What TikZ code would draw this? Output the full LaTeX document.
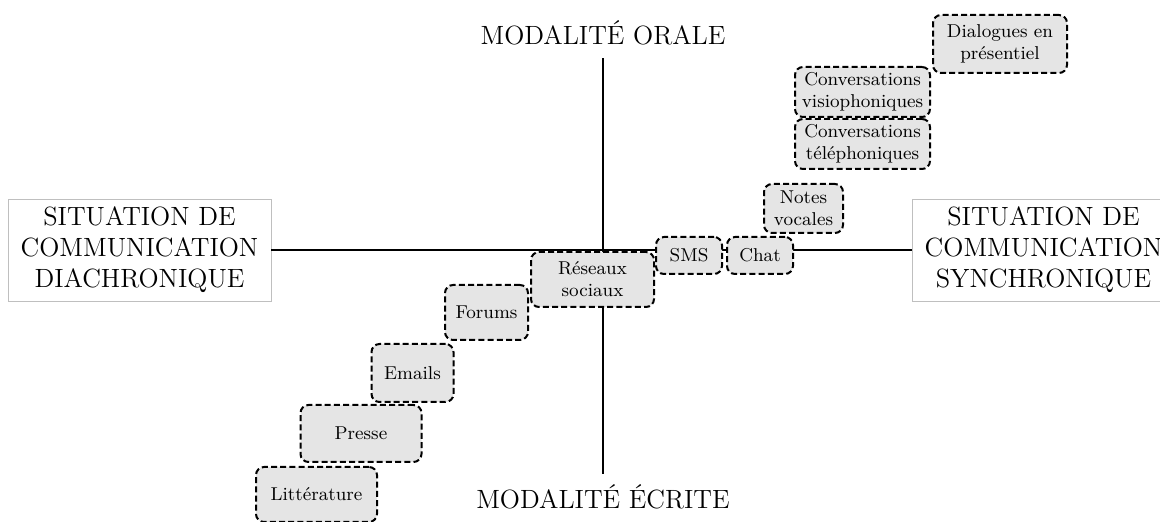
\documentclass[tikz,border=0pt]{standalone}
\usepackage{amsmath,amssymb}
\usepackage{tikz}

\begin{document}
\begin{tikzpicture}[x=0.5pt,y=-0.5pt,
        axe/.style={line width=1.3pt},
        pole/.style={font=\fontsize{13.2}{15.5}\selectfont,align=center},
        situation/.style={pole,draw=black!25,line width=0.4pt,
            minimum width=131.5pt,minimum height=51pt},
        medium/.style={draw,line width=1pt,dash pattern=on 3pt off 1.6pt,
            rounded corners=4pt,fill=black!10,align=center,inner sep=1pt,
            font=\fontsize{9.3}{11}\selectfont}]
        \useasboundingbox (0,0) rectangle (1160,522);
        % les quatre poles
        \node[pole] (oral) at (603,33) {MODALIT\'E ORALE};
        \node[pole] (ecrit) at (603,497) {MODALIT\'E \'ECRITE};
        \node[situation] (diachro) at (139.5,250) {SITUATION DE\\COMMUNICATION\\DIACHRONIQUE};
        \node[situation] (synchro) at (1043.5,250) {SITUATION DE\\COMMUNICATION\\SYNCHRONIQUE};
        \draw[axe,shorten <=3pt,shorten >=2pt] (oral) -- (ecrit);
        \draw[axe] (diachro) -- (synchro);
        % les supports
        \foreach \n/\x/\l/\w/\h in{
        dial/{(1000,44)}/{Dialogues en\\pr\'esentiel}/67/29,
        visio/{(862.5,92)}/{Conversations\\visiophoniques}/67.5/25,
        tele/{(862.5,144)}/{Conversations\\t\'el\'ephoniques}/67.5/25,
        notes/{(803.5,208.5)}/{Notes\\vocales}/39.5/24.5,
        sms/{(689,255.5)}/{SMS}/33/18.5,
        chat/{(760,255.5)}/{Chat}/33/18.5,
        reseaux/{(592.5,279.5)}/{R\'eseaux\\sociaux}/61.5/27.5,
        forums/{(486.5,312.5)}/{Forums}/41.5/27.5,
        emails/{(412.5,373)}/{Emails}/41/29,
        presse/{(361,433.5)}/{Presse}/60.5/28.5,
        litt/{(316.5,494.5)}/{Litt\'erature}/60.5/27.5
        }
        {
            \node[medium,minimum width=\w pt,minimum height=\h pt]
            (\n) at \x {\l};
        }
    \end{tikzpicture}
\end{document}
